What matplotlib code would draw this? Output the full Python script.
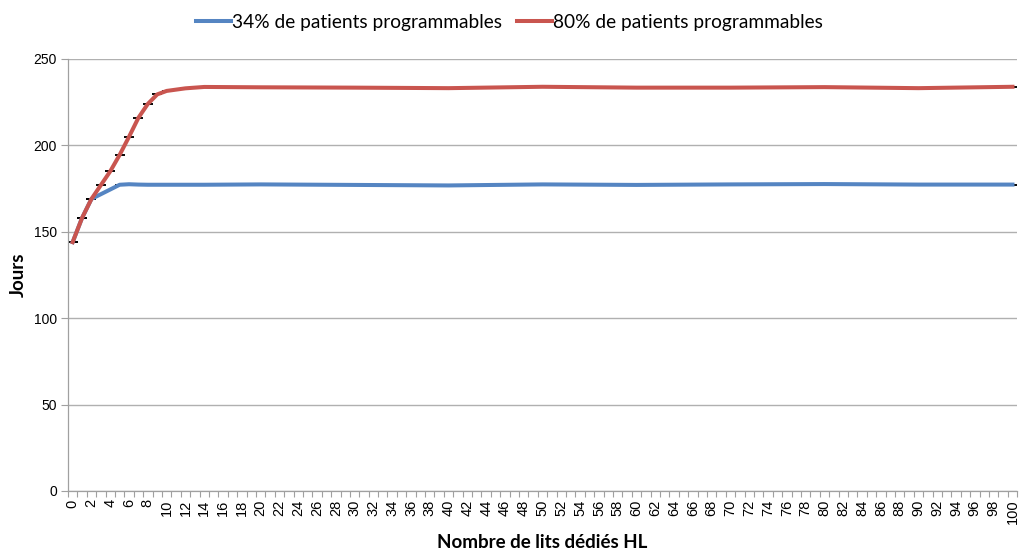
import numpy as np
import matplotlib
matplotlib.use("Agg")
import matplotlib.pyplot as plt

# Nombre de lits dédiés HL (points simulés)
lits_34 = [0, 1, 2, 5, 6, 7, 8, 9, 10, 12, 14, 20, 30, 40, 50, 60, 70, 80, 90, 100]
lits_80 = [0, 1, 2, 3, 4, 5, 6, 7, 8, 9, 10, 12, 14, 20, 30, 40, 50, 60, 70, 80, 90, 100]

# Durée moyenne (jours) selon la part de patients programmables
jours_34 = [144, 158, 169, 177.2, 177.5, 177.3, 177.2, 177.2, 177.2, 177.2, 177.2,
            177.4, 177.1, 176.8, 177.4, 177.1, 177.4, 177.6, 177.3, 177.3]
jours_80 = [144, 158, 169, 177, 185, 194.5, 205, 216, 224, 229.5, 231.5, 233, 233.8,
            233.6, 233.4, 233.1, 233.9, 233.4, 233.4, 233.7, 233.1, 233.9]

# Intervalles (quasi nuls)
err_34 = [0] * len(lits_34)
err_80 = [0] * len(lits_80)

labels = ["34% de patients programmables", "80% de patients programmables"]
couleurs = ["#5585c2", "#c9554f"]

fig = plt.figure(figsize=(10.19, 5.51), dpi=100)
ax = fig.add_axes([0.0667, 0.109, 0.9315, 0.784])

series = [(lits_34, jours_34, err_34, couleurs[0], labels[0]),
          (lits_80, jours_80, err_80, couleurs[1], labels[1])]
for x, y, e, c, lab in series:
    ax.errorbar(x, y, yerr=e, fmt="none", ecolor="black", elinewidth=0.8,
                capsize=3.6, capthick=1.1, zorder=2)
    ax.plot(x, y, color=c, lw=2.9, label=lab, zorder=3, solid_joinstyle="round")

ax.set_xlim(-0.5, 100.5)
ax.set_ylim(0, 250)
ax.set_yticks(np.arange(0, 251, 50))
ax.yaxis.grid(True, color="#b0b0b0", lw=1)
ax.set_axisbelow(True)

ax.set_xticks(np.arange(0, 101, 2))
ax.set_xticklabels([str(v) for v in range(0, 101, 2)], rotation=90, fontsize=10.5,
                   family="Liberation Sans")
ax.set_xticks(np.arange(-0.5, 101, 1), minor=True)
ax.tick_params(axis="x", which="major", length=0, pad=6)
ax.tick_params(axis="x", which="minor", length=4, color="#a0a0a0", width=0.8)
ax.tick_params(axis="y", length=5, color="#a0a0a0", width=0.8, labelsize=10, pad=3)
for t in ax.get_yticklabels():
    t.set_family("Liberation Sans")

for s in ["top", "right"]:
    ax.spines[s].set_visible(False)
for s in ["left", "bottom"]:
    ax.spines[s].set_color("#a0a0a0")
    ax.spines[s].set_linewidth(0.9)

ax.set_ylabel("Jours", fontsize=13.5, fontweight="bold", family="Lato", labelpad=5)
ax.set_xlabel("Nombre de lits dédiés HL", fontsize=13.5, fontweight="bold", family="Lato",
              labelpad=7)

fig.legend(loc="center", bbox_to_anchor=(0.5, 0.96), ncol=2, frameon=False,
           prop={"family": "Lato", "size": 13.8}, handlelength=1.8, handletextpad=0.05,
           columnspacing=0.8)

fig.savefig("out.png", dpi=100)
